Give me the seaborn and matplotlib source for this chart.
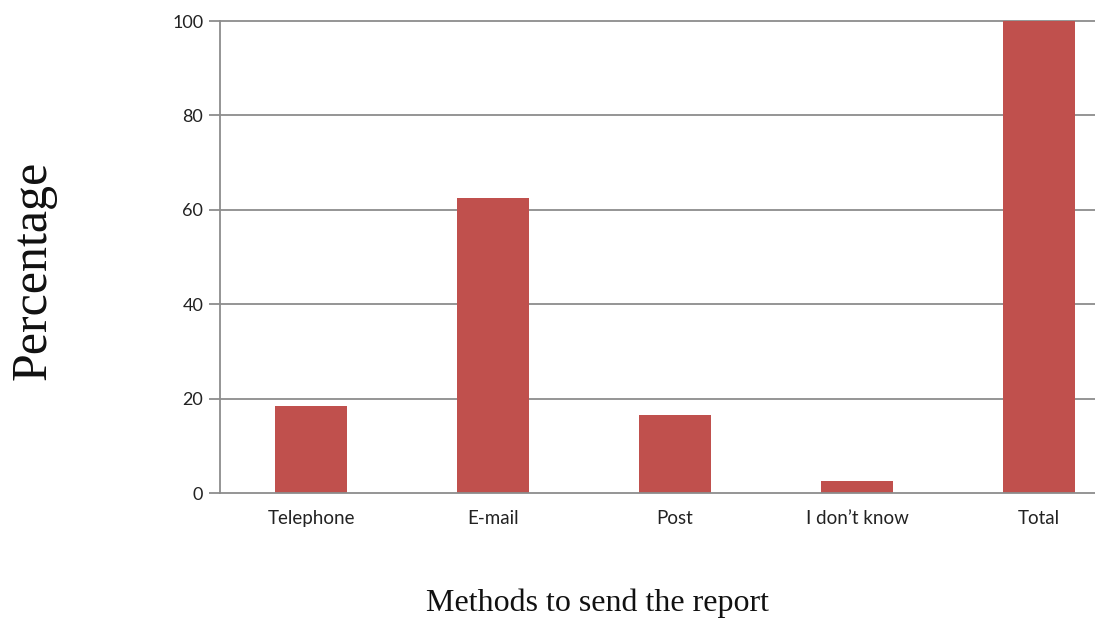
import matplotlib
matplotlib.use("Agg")
import matplotlib.pyplot as plt
import seaborn as sns
import pandas as pd
import numpy as np

categories = ["Telephone", "E-mail", "Post", "I don\u2019t know", "Total"]
percentages = [18.5, 62.5, 16.5, 2.5, 100.0]
y_ticks = [0, 20, 40, 60, 80, 100]

sns.set_theme(style="white")
plt.rcParams['font.family'] = ['Lato', 'DejaVu Sans']

df = pd.DataFrame({"Method": categories, "Percentage": percentages})

W, H = 1095, 621
fig = plt.figure(figsize=(W / 100, H / 100), dpi=100)
left, right, bottom, top = 220, 1130, 493, 21
ax = fig.add_axes([left / W, 1 - bottom / H, (right - left) / W, (bottom - top) / H])

grid_c = "#8c8c8c"
sns.barplot(data=df, x="Method", y="Percentage", color="#C0504D", width=0.4,
            saturation=1, ax=ax, zorder=3, linewidth=0, edgecolor="none")

ax.set_xlim(-0.5, len(categories) - 0.5)
ax.set_ylim(0, 100)
ax.set_yticks(y_ticks)
ax.set_yticklabels([str(v) for v in y_ticks], fontsize=13, color="#222222")
for v in y_ticks[1:]:
    ax.axhline(v, color=grid_c, lw=1.3, zorder=1, clip_on=False)

ax.set_xticks(range(len(categories)))
ax.set_xticklabels(categories, fontsize=13.5, color="#222222")
ax.tick_params(axis="x", which="major", length=0, pad=12)
ax.set_xticks(np.arange(-0.5, len(categories), 1.0), minor=True)
ax.tick_params(axis="x", which="minor", length=5, width=1.3, color=grid_c, direction="out")
ax.tick_params(axis="y", length=8, width=1.3, color=grid_c, direction="out", left=True, pad=4)

for s in ["top", "right"]:
    ax.spines[s].set_visible(False)
for s in ["left", "bottom"]:
    ax.spines[s].set_color(grid_c)
    ax.spines[s].set_linewidth(1.3)
ax.spines["left"].set_zorder(4)
ax.spines["bottom"].set_zorder(4)

ax.set_xlabel("")
ax.set_ylabel("")
fig.text(33 / W, 1 - 270 / H, "Percentage", rotation=90, ha="center", va="center",
         fontsize=36, family=["Liberation Serif"], color="#111111")
fig.text(598 / W, 1 - 603 / H, "Methods to send the report", ha="center", va="center",
         fontsize=23, family=["Liberation Serif"], color="#111111")

fig.savefig("out.png", dpi=100, facecolor="white")
